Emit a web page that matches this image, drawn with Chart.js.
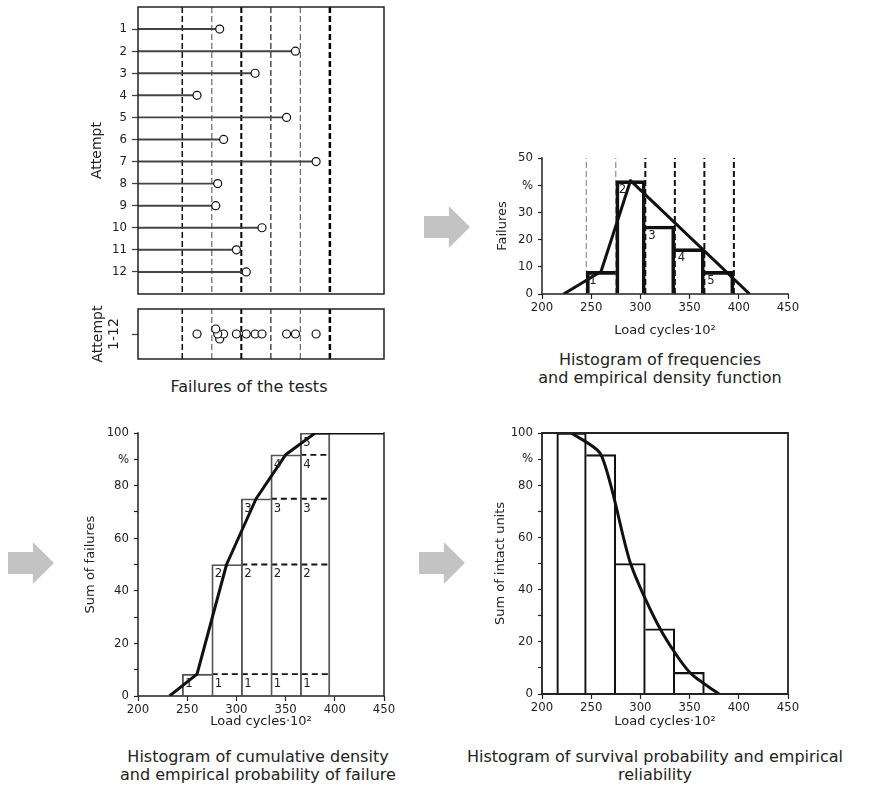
<!DOCTYPE html>
<html>
<head>
<meta charset="utf-8">
<title>Failure statistics of the load tests</title>
<script src="https://cdn.jsdelivr.net/npm/chart.js@4.4.1/dist/chart.umd.min.js"></script>
<style>
  body { margin: 0; background: #fff; }
  #page { position: relative; width: 874px; height: 796px; overflow: hidden;
          font-family: "DejaVu Sans", sans-serif; color: #222; }
  canvas { position: absolute; }
  .caption { position: absolute; width: 420px; margin-left: -210px; text-align: center;
             font-size: 16px; line-height: 18px; white-space: nowrap; }
  .arrow { position: absolute; width: 46px; height: 42px; background: #c3c3c3;
           clip-path: polygon(0 24%, 54% 24%, 54% 0, 100% 50%, 54% 100%, 54% 76%, 0 76%); }
</style>
</head>
<body>
<div id="page">
  <canvas id="attempts"></canvas>
  <canvas id="strip"></canvas>
  <canvas id="frequency"></canvas>
  <canvas id="cumulative"></canvas>
  <canvas id="survival"></canvas>

  <div class="caption" style="left:249px; top:378px;">Failures of the tests</div>
  <div class="caption" style="left:660px; top:351px;">Histogram of frequencies<br>and empirical density function</div>
  <div class="caption" style="left:258px; top:748px;">Histogram of cumulative density<br>and empirical probability of failure</div>
  <div class="caption" style="left:655px; top:748px;">Histogram of survival probability and empirical<br>reliability</div>

  <div class="arrow" style="left:424px; top:206px;"></div>
  <div class="arrow" style="left:8px; top:542px;"></div>
  <div class="arrow" style="left:419px; top:542px;"></div>
</div>

<script>
// test results (load cycles x 10^2 at failure)
const attempts = [1, 2, 3, 4, 5, 6, 7, 8, 9, 10, 11, 12];
const loadCycles = [283, 360, 319, 260, 351, 287, 381, 281, 279, 326, 300, 310];

// classes
const classBounds = [245, 275, 305, 335, 365, 395];
const classMid = [260, 290, 320, 350, 380];
const classNo = ['1', '2', '3', '4', '5'];

// frequencies in %
const failurePct = [8.3, 41.7, 25.0, 16.7, 8.3];
const densityX = [222, 260, 290, 411];
const densityY = [0, 8.3, 41.7, 0];

// cumulative
const cumulativePct = [8.3, 50.0, 75.0, 91.7, 100];
const cdfX = [232, 260, 290, 320, 350, 380, 450];
const cdfY = [0, 8.3, 50.0, 75.0, 91.7, 100, 100];

// survival
const survivalMid = [230, 260, 290, 320, 350];
const survivalPct = [100, 91.7, 50.0, 25.0, 8.3];
const reliabX = [230, 260, 290, 320, 350, 380];
const reliabY = [100, 91.7, 50.0, 25.0, 8.3, 0];

const xTicks = [200, 250, 300, 350, 400, 450];

const TICK_FONT = {family: '"Liberation Sans Narrow", "DejaVu Sans Condensed", "Liberation Sans", sans-serif', size: 13};
const TITLE_FONT = {family: '"DejaVu Sans", sans-serif', size: 13};
const INK = '#222';

Chart.defaults.animation = false;
Chart.defaults.responsive = false;
Chart.defaults.devicePixelRatio = 1;
Chart.defaults.plugins.legend.display = false;
Chart.defaults.plugins.tooltip.enabled = false;
Chart.defaults.color = INK;

// border lines around the plot area, only on the sides asked for
Chart.register({
  id: 'frame',
  afterDatasetsDraw(chart, args, opts) {
    const sides = opts.sides || [];
    if (!sides.length) return;
    const {left, right, top, bottom} = chart.chartArea;
    const ctx = chart.ctx;
    ctx.save();
    ctx.strokeStyle = opts.color || INK;
    ctx.lineWidth = opts.width || 1.5;
    ctx.lineCap = 'square';
    ctx.beginPath();
    if (sides.includes('left')) { ctx.moveTo(left, top); ctx.lineTo(left, bottom); }
    if (sides.includes('right')) { ctx.moveTo(right, top); ctx.lineTo(right, bottom); }
    if (sides.includes('top')) { ctx.moveTo(left, top); ctx.lineTo(right, top); }
    if (sides.includes('bottom')) { ctx.moveTo(left, bottom); ctx.lineTo(right, bottom); }
    ctx.stroke();
    ctx.restore();
  }
});

// canvas sized and placed so that the plot area lands on `area`
function place(id, area, pad) {
  const c = document.getElementById(id);
  c.width = pad.left + area.width + pad.right;
  c.height = pad.top + area.height + pad.bottom;
  c.style.left = (area.left - pad.left) + 'px';
  c.style.top = (area.top - pad.top) + 'px';
  return c;
}

function loadAxis(pad, showTicks, titlePad) {
  return {
    type: 'linear', min: 200, max: 450, offset: false,
    afterBuildTicks: s => { s.ticks = xTicks.map(v => ({value: v})); },
    afterFit: s => { s.height = pad.bottom; },
    border: {display: false},
    grid: {drawOnChartArea: false, offset: false, drawTicks: showTicks, tickLength: 5, tickColor: INK, tickWidth: 1.2},
    ticks: {display: showTicks, font: TICK_FONT, padding: 1, maxRotation: 0},
    title: titlePad == null ? {display: false} :
      {display: true, text: 'Load cycles·10²', font: TITLE_FONT, padding: {top: 0, bottom: titlePad}}
  };
}

function pctAxis(pad, max, label, title, titlePad) {
  return {
    type: 'linear', min: 0, max: max,
    afterFit: s => { s.width = pad.left; },
    border: {display: false},
    grid: {drawOnChartArea: false, tickLength: 4, tickColor: INK, tickWidth: 1.2},
    ticks: {stepSize: 10, font: TICK_FONT, padding: 5, callback: label},
    title: {display: true, text: title, font: TITLE_FONT, padding: {top: titlePad, bottom: 0}}
  };
}

// dashed class boundaries, one line dataset per boundary
function boundaryLines(yMin, yMax, styles) {
  return classBounds.map((b, i) => ({
    type: 'line',
    data: [{x: b, y: yMin}, {x: b, y: yMax}],
    borderColor: styles[i][0], borderWidth: styles[i][1], borderDash: [6, 3],
    pointRadius: 0, fill: false, order: 5
  }));
}

// bars share their edges: draw a side only where the neighbour is lower
function stepBorder(values, width) {
  return ctx => {
    const i = ctx.dataIndex;
    const v = values[i];
    const prev = i > 0 ? values[i - 1] : -1;
    const next = i < values.length - 1 ? values[i + 1] : -1;
    return {top: width, bottom: 0, left: prev <= v ? width : 0, right: next < v ? width : 0};
  };
}

function histogramBars(mids, values, color, width) {
  return {
    type: 'bar',
    data: mids.map((m, i) => ({x: m, y: values[i]})),
    backgroundColor: 'rgba(0,0,0,0)',
    borderColor: color,
    borderWidth: stepBorder(values, width),
    borderSkipped: false,
    barPercentage: 1, categoryPercentage: 1,
    order: 3
  };
}

function curve(xs, ys, extra) {
  return Object.assign({
    type: 'line',
    data: xs.map((x, i) => ({x: x, y: ys[i]})),
    borderColor: '#111', borderWidth: 3, pointRadius: 0, fill: false,
    borderJoinStyle: 'round', order: 1
  }, extra || {});
}

const gridStyles = [['#111', 1.5], ['#666', 1.2], ['#000', 2], ['#333', 1.3], ['#666', 1.2], ['#000', 2.5]];

// --- failures per attempt ---
const padA = {left: 60, top: 14, right: 6, bottom: 14};
new Chart(place('attempts', {left: 138, top: 7, width: 246, height: 287}, padA), {
  type: 'scatter',
  data: {
    datasets: [
      {
        type: 'scatter',
        data: attempts.map((a, i) => ({x: loadCycles[i], y: a})),
        pointRadius: 4, pointBackgroundColor: '#fff', pointBorderColor: '#111', pointBorderWidth: 1.2,
        order: 0
      },
      {
        type: 'bar', indexAxis: 'y',
        data: attempts.map((a, i) => ({y: a, x: [200, loadCycles[i]]})),
        backgroundColor: '#444', borderWidth: 0, barThickness: 1.3,
        order: 2
      },
      ...boundaryLines(0, 13, gridStyles)
    ]
  },
  options: {
    layout: {padding: {left: 0, top: padA.top, right: padA.right, bottom: 0}},
    scales: {
      x: loadAxis(padA, false, null),
      y: {
        type: 'linear', reverse: true, min: 0, max: 13, offset: false,
        afterBuildTicks: s => { s.ticks = attempts.map(v => ({value: v})); },
        afterFit: s => { s.width = padA.left; },
        border: {display: false},
        grid: {drawOnChartArea: false, offset: false, tickLength: 6, tickColor: '#444', tickWidth: 1.3},
        ticks: {font: TICK_FONT, padding: 5},
        title: {display: true, text: 'Attempt', font: {family: TITLE_FONT.family, size: 14}, padding: {top: 11, bottom: 0}}
      }
    },
    plugins: {frame: {sides: ['left', 'right', 'top', 'bottom'], width: 1.5}}
  }
});

// --- all attempts on one line, close values stacked ---
const stripY = new Array(loadCycles.length).fill(0);
const sorted = loadCycles.map((v, i) => i).sort((a, b) => loadCycles[a] - loadCycles[b]);
let group = [sorted[0]];
for (let k = 1; k <= sorted.length; k++) {
  const idx = sorted[k];
  if (k < sorted.length && loadCycles[idx] - loadCycles[group[group.length - 1]] < 4) {
    group.push(idx);
    continue;
  }
  group.forEach((g, j) => { stripY[g] = ((group.length - 1) / 2 - j) * 0.2; });
  group = [idx];
}

const padB = {left: 60, top: 14, right: 6, bottom: 14};
new Chart(place('strip', {left: 138, top: 309, width: 246, height: 50}, padB), {
  type: 'scatter',
  data: {
    datasets: [
      {
        data: loadCycles.map((v, i) => ({x: v, y: stripY[i]})),
        pointRadius: 4, pointBackgroundColor: '#fff', pointBorderColor: '#111', pointBorderWidth: 1.2,
        order: 0
      },
      ...boundaryLines(-1, 1, gridStyles)
    ]
  },
  options: {
    layout: {padding: {left: 0, top: padB.top, right: padB.right, bottom: 0}},
    scales: {
      x: loadAxis(padB, false, null),
      y: {
        type: 'linear', min: -1, max: 1,
        afterBuildTicks: s => { s.ticks = [{value: 0}]; },
        afterFit: s => { s.width = padB.left; },
        border: {display: false},
        grid: {drawOnChartArea: false, tickLength: 6, tickColor: '#444', tickWidth: 1.3},
        ticks: {callback: () => ''},
        title: {display: true, text: ['Attempt', '1-12'], font: {family: TITLE_FONT.family, size: 14, lineHeight: 1.15},
                padding: {top: 12, bottom: 0}}
      }
    },
    plugins: {frame: {sides: ['left', 'right', 'top', 'bottom'], width: 1.5}}
  }
});

// class numbers inside the bars
function classLabels(levelsFor) {
  return {
    id: 'classLabels',
    afterDatasetsDraw(chart) {
      const meta = chart.getDatasetMeta(0);
      const ctx = chart.ctx;
      const y = chart.scales.y;
      ctx.save();
      ctx.font = TICK_FONT.size + 'px ' + TICK_FONT.family;
      ctx.fillStyle = INK;
      ctx.textBaseline = 'top';
      ctx.textAlign = 'left';
      meta.data.forEach((bar, j) => {
        const x0 = bar.x - bar.width / 2 + 3;
        levelsFor(j).forEach(([text, value]) => ctx.fillText(text, x0, y.getPixelForValue(value) + 3));
      });
      ctx.restore();
    }
  };
}

// --- frequency histogram ---
const padC = {left: 50, top: 14, right: 20, bottom: 50};
new Chart(place('frequency', {left: 542, top: 158, width: 246, height: 136}, padC), {
  type: 'bar',
  data: {
    datasets: [
      histogramBars(classMid, failurePct, '#111', 3),
      curve(densityX, densityY),
      ...boundaryLines(0, 50, [['#777', 1], ['#777', 1], ['#111', 2], ['#111', 2], ['#111', 2], ['#111', 2]])
    ]
  },
  options: {
    layout: {padding: {left: 0, top: padC.top, right: padC.right, bottom: 0}},
    scales: {
      x: loadAxis(padC, true, 6),
      y: pctAxis(padC, 50, v => v === 40 ? '%' : v, 'Failures', 3)
    },
    plugins: {frame: {sides: ['left', 'bottom'], width: 1.5}}
  },
  plugins: [classLabels(j => [[classNo[j], failurePct[j]]])]
});

// --- cumulative histogram ---
const padD = {left: 60, top: 14, right: 20, bottom: 38};
const cumulativeDashes = cumulativePct.slice(0, -1).map((v, i) => ({
  type: 'line',
  data: [{x: classBounds[i + 1], y: v}, {x: classBounds[classBounds.length - 1], y: v}],
  borderColor: '#111', borderWidth: 1.8, borderDash: [6, 4], pointRadius: 0, fill: false, order: 4
}));
new Chart(place('cumulative', {left: 138, top: 433, width: 246, height: 263}, padD), {
  type: 'bar',
  data: {
    datasets: [
      histogramBars(classMid, cumulativePct, '#555', 1.2),
      curve(cdfX, cdfY),
      ...cumulativeDashes
    ]
  },
  options: {
    layout: {padding: {left: 0, top: padD.top, right: padD.right, bottom: 0}},
    scales: {
      x: loadAxis(padD, true, 5),
      y: pctAxis(padD, 100, v => v === 90 ? '%' : (v % 20 === 0 ? v : ''), 'Sum of failures', 5)
    },
    plugins: {frame: {sides: ['left', 'bottom', 'right'], width: 1.5}}
  },
  plugins: [classLabels(j => cumulativePct.slice(0, j + 1).map((v, i) => [classNo[i], v]))]
});

// --- survival histogram ---
const padE = {left: 50, top: 14, right: 20, bottom: 40};
new Chart(place('survival', {left: 542, top: 433, width: 246, height: 261}, padE), {
  type: 'bar',
  data: {
    datasets: [
      histogramBars(survivalMid, survivalPct, '#111', 1.5),
      curve(reliabX, reliabY, {tension: 0.25})
    ]
  },
  options: {
    layout: {padding: {left: 0, top: padE.top, right: padE.right, bottom: 0}},
    scales: {
      x: loadAxis(padE, true, 5),
      y: pctAxis(padE, 100, v => v === 90 ? '%' : (v % 20 === 0 ? v : ''), 'Sum of intact units', 1)
    },
    plugins: {frame: {sides: ['left', 'bottom', 'right', 'top'], width: 1.8}}
  }
});
</script>
</body>
</html>
